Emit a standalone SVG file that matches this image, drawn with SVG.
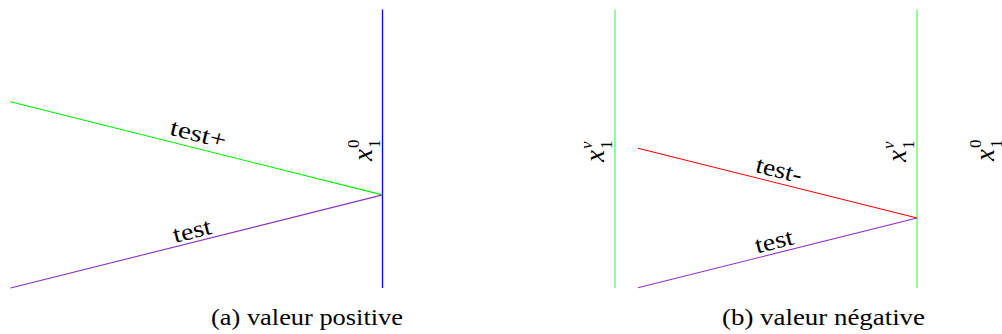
<svg xmlns="http://www.w3.org/2000/svg" width="1002" height="334" viewBox="0 0 1002 334">
<style>
.ln{fill:none;stroke-linecap:butt}
text{fill:#000;font-family:'Liberation Serif','Times New Roman',Times,'DejaVu Serif','Nimbus Roman','Noto Serif',serif}
</style>
<rect width="1002" height="334" fill="#fff"/>
<g id="connectors">
  <line id="a-blue" class="ln" x1="382.5" y1="9.5" x2="382.5" y2="288" stroke="#0000ff" stroke-width="1.3"/>
  <line id="a-green" class="ln" x1="10.5" y1="101.7" x2="382.5" y2="194.9" stroke="#00ee00" stroke-width="1.1"/>
  <line id="a-purple" class="ln" x1="10.5" y1="288" x2="382.5" y2="194.9" stroke="#9030c0" stroke-width="1.1"/>
  <line id="b-left" class="ln" x1="615" y1="9.5" x2="615" y2="288" stroke="#70ff70" stroke-width="1.5"/>
  <line id="b-right" class="ln" x1="917" y1="9.5" x2="917" y2="288" stroke="#70ff70" stroke-width="1.5"/>
  <line id="b-red" class="ln" x1="638" y1="148.3" x2="917" y2="218" stroke="#ff0000" stroke-width="1.1"/>
  <line id="b-purple" class="ln" x1="638" y1="287.7" x2="917" y2="218" stroke="#9030c0" stroke-width="1.1"/>
</g>
<g id="edge-labels" font-size="24">
  <text text-anchor="middle" textLength="57" lengthAdjust="spacingAndGlyphs" transform="translate(196.5,141.5) rotate(14.07)">test+</text>
  <text text-anchor="middle" textLength="39" lengthAdjust="spacingAndGlyphs" transform="translate(194,238.3) rotate(-14.07)">test</text>
  <text text-anchor="middle" textLength="47" lengthAdjust="spacingAndGlyphs" transform="translate(777.2,177.5) rotate(14.03)">test-</text>
  <text text-anchor="middle" textLength="39" lengthAdjust="spacingAndGlyphs" transform="translate(775.9,248.8) rotate(-14.03)">test</text>
</g>
<g id="node-a-x10">
  <text transform="translate(372,161) rotate(-90)"><tspan x="0" y="0" font-style="italic" font-size="27">x</tspan><tspan x="13" y="-13" font-size="17">0</tspan><tspan x="13" y="8" font-size="17">1</tspan></text>
</g>
<g id="node-b-xv1-left">
  <text transform="translate(604,162) rotate(-90)"><tspan x="0" y="0" font-style="italic" font-size="27">x</tspan><tspan x="13" y="-12" font-size="17" font-style="italic">v</tspan><tspan x="13" y="8" font-size="17">1</tspan></text>
</g>
<g id="node-b-xv1-right">
  <text transform="translate(906,162) rotate(-90)"><tspan x="0" y="0" font-style="italic" font-size="27">x</tspan><tspan x="13" y="-12" font-size="17" font-style="italic">v</tspan><tspan x="13" y="8" font-size="17">1</tspan></text>
</g>
<g id="node-c-x10">
  <text transform="translate(994,161) rotate(-90)"><tspan x="0" y="0" font-style="italic" font-size="27">x</tspan><tspan x="13" y="-13" font-size="17">0</tspan><tspan x="13" y="8" font-size="17">1</tspan></text>
</g>
<g id="captions" font-size="24">
  <text x="211" y="325" textLength="192" lengthAdjust="spacingAndGlyphs">(a) valeur positive</text>
  <text x="722" y="325" textLength="203" lengthAdjust="spacingAndGlyphs">(b) valeur négative</text>
</g>
</svg>
